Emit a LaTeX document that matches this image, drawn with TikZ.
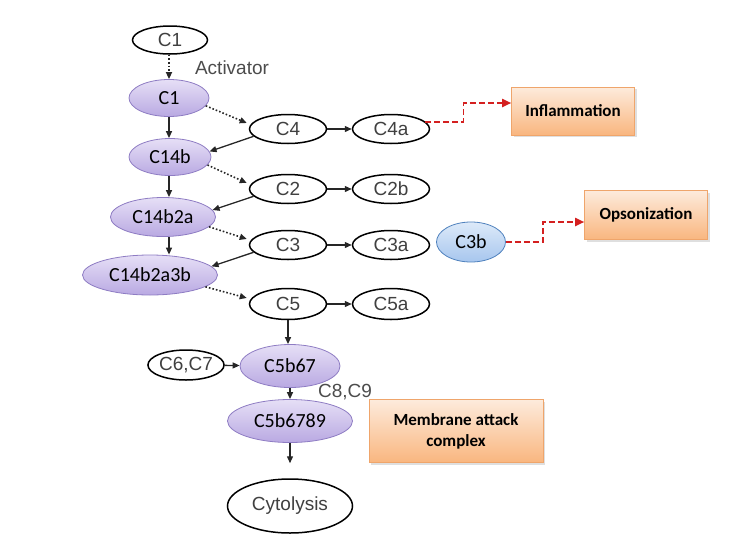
\documentclass[tikz,border=0pt]{standalone}
\usepackage{fontspec}
\setmainfont{Carlito}
\newfontfamily\arialfont{Liberation Sans}
\usepackage{tikz}
\usetikzlibrary{arrows.meta,positioning,shapes.geometric,shadows}
\usepackage{xcolor}
\definecolor{lavtop}{HTML}{E6DFF6}
\definecolor{lavbot}{HTML}{B9A9E2}
\definecolor{lavline}{HTML}{8E7CC3}
\definecolor{bluetop}{HTML}{DDEAF9}
\definecolor{bluebot}{HTML}{A7C6EE}
\definecolor{blueline}{HTML}{4F81BD}
\definecolor{orgtop}{HTML}{FDEBDC}
\definecolor{orgbot}{HTML}{F9B67F}
\definecolor{orgline}{HTML}{EFA56B}
\definecolor{pathred}{HTML}{D42020}

\tikzset{
  plain/.style={ellipse, draw, line width=1.5pt, fill=white, inner sep=0pt,
    minimum width=77, minimum height=29, text=black!75,
    font=\arialfont\fontsize{19}{21}\selectfont},
  protein/.style={ellipse, draw=lavline, line width=0.8pt, inner sep=0pt,
    top color=lavtop, bottom color=lavbot, minimum height=37,
    font=\fontsize{20}{22}\selectfont},
  fragment/.style={ellipse, draw=blueline, line width=0.8pt, inner sep=0pt,
    top color=bluetop, bottom color=bluebot, minimum width=69, minimum height=40,
    font=\fontsize{20}{22}\selectfont},
  outcome/.style={rectangle, draw=orgline, line width=0.6pt, inner sep=2pt,
    top color=orgtop, bottom color=orgbot, align=center,
    drop shadow={opacity=0.25, shadow xshift=2pt, shadow yshift=-2pt},
    font=\bfseries\fontsize{17}{21}\selectfont},
  tag/.style={text=black!70, inner sep=0pt, font=\arialfont\fontsize{19}{21}\selectfont},
  arr/.style={-{Triangle[length=7pt,width=6pt]}, line width=1.3pt, black!85},
  dotarrow/.style={-{Triangle[length=7pt,width=6pt]}, line width=1.6pt, dotted, black!85},
  redarr/.style={-{Triangle[length=9pt,width=8pt]}, line width=1.8pt, pathred,
    dash pattern=on 6pt off 3pt}
}

\begin{document}
\begin{tikzpicture}[x=1pt, y=-1pt]
  \useasboundingbox (0,0) rectangle (740,555);

  % classical pathway column
  \node[plain, minimum width=75, minimum height=28] (c1top) at (170,40) {C1};
  \node[tag] (act) at (232,68) {Activator};
  \node[protein, minimum width=80] (c1) at (169,98) {C1};
  \node[protein, minimum width=82] (c14b) at (170,157) {C14b};
  \node[protein, minimum width=105, minimum height=39] (c14b2a) at (163,217) {C14b2a};
  \node[protein, minimum width=135, minimum height=40] (c14b2a3b) at (150,275) {C14b2a3b};
  \coordinate (spine) at (169,0);

  % cleaved components
  \node[plain] (c4) at (288,129) {C4};
  \node[plain] (c4a) at (391,129) {C4a};
  \node[plain] (c2) at (288,189) {C2};
  \node[plain] (c2b) at (391,189) {C2b};
  \node[plain] (c3) at (288,245) {C3};
  \node[plain] (c3a) at (391,245) {C3a};
  \node[plain, minimum height=31] (c5) at (288,304) {C5};
  \node[plain, minimum height=31] (c5a) at (391,304) {C5a};
  \node[fragment] (c3b) at (471,242) {C3b};

  % effects
  \node[outcome, minimum width=123, minimum height=48] (infl) at (573,111) {Inflammation};
  \node[outcome, minimum width=123, minimum height=49] (opso) at (646,215) {Opsonization};
  \node[outcome, minimum width=174, minimum height=63] (mac) at (456,431) {Membrane attack\\complex};

  % terminal pathway
  \node[plain, minimum width=75, minimum height=30] (c67) at (186,365) {C6,C7};
  \node[protein, minimum width=100, minimum height=43] (c5b67) at (290,366) {C5b67};
  \node[tag] (c89) at (345,392) {C8,C9};
  \node[protein, minimum width=125, minimum height=43] (c5b6789) at (290,421) {C5b6789};
  \node[plain, minimum width=125, minimum height=54] (cyto) at (290,506) {Cytolysis};

  \draw[dotarrow] (c1top.south -| spine) -- (c1.north -| spine);
  \foreach \a/\b in {c1/c14b, c14b/c14b2a, c14b2a/c14b2a3b}
    \draw[arr] (\a.south -| spine) -- (\b.north -| spine);
  \foreach \p/\q/\r in {c1/c4/c14b, c14b/c2/c14b2a, c14b2a/c3/c14b2a3b} {
    \draw[dotarrow] (\p.-12) -- ([xshift=-2pt, yshift=6pt]\q.west);
    \draw[arr] (\q.192) -- (\r.8);
  }
  \draw[dotarrow] (c14b2a3b.-12) -- ([xshift=-2pt, yshift=6pt]c5.west);
  \foreach \a/\b in {c4/c4a, c2/c2b, c3/c3a, c5/c5a}
    \draw[arr] (\a) -- (\b);

  \draw[redarr] (c4a.12) -- ++(38,0) |- ([yshift=8pt]infl.west);
  \draw[redarr] (c3b.east) -- ++(37,0) |- ([yshift=-7pt]opso.west);

  \draw[arr] (c5.south) -- (c5b67.north -| c5.south);
  \draw[arr] (c67) -- (c5b67);
  \draw[arr] (c5b67) -- (c5b6789);
  \draw[arr, shorten >=15pt] (c5b6789) -- (cyto);
\end{tikzpicture}
\end{document}
